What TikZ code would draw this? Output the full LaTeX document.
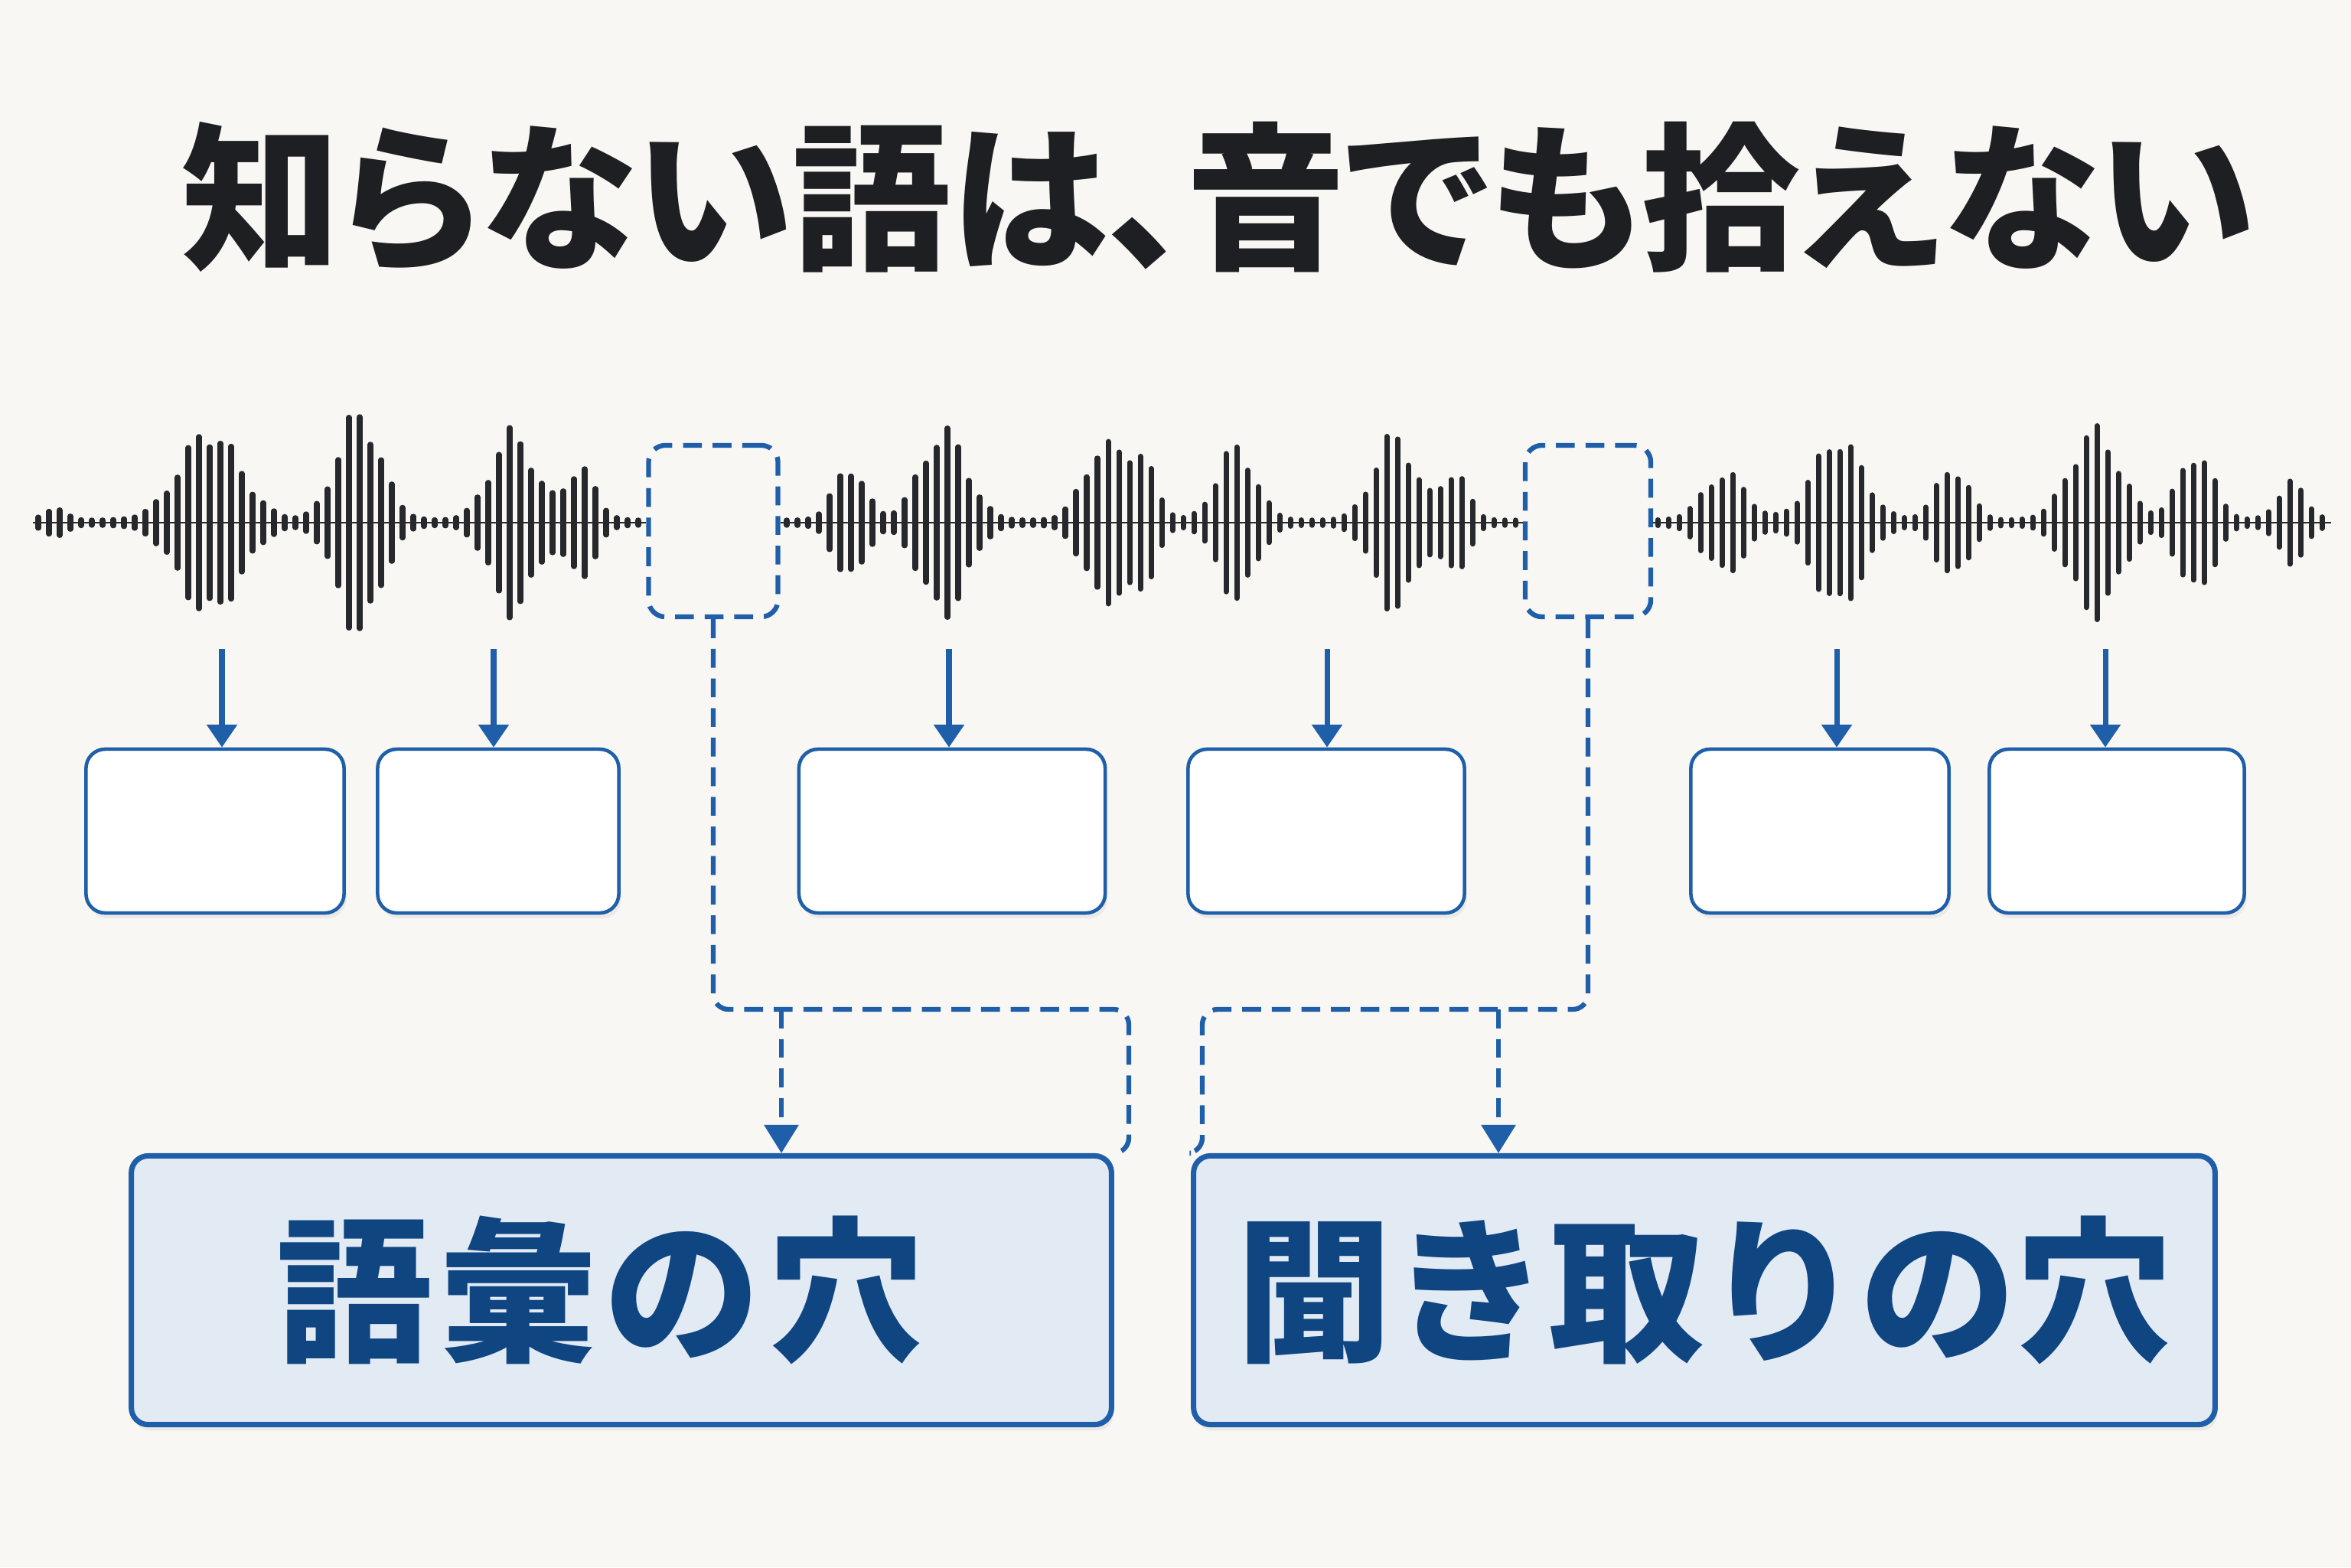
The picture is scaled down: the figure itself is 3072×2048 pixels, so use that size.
\documentclass[tikz,border=0pt]{standalone}
\usepackage{fontspec}
\newfontfamily\jptitle[RawFeature=+palt]{Noto Sans CJK JP}
\newfontfamily\jpfont{Noto Sans CJK JP}
\usetikzlibrary{arrows.meta,shadows}

\definecolor{paper}{HTML}{F8F7F3}
\definecolor{ink}{HTML}{1E1F22}
\definecolor{wavegray}{HTML}{26282C}
\definecolor{holeblue}{HTML}{1F5FA9}
\definecolor{holefill}{HTML}{E2EAF4}
\definecolor{holetext}{HTML}{0F4581}

\begin{document}
\begin{tikzpicture}[x=0.01cm,y=-0.01cm,>={Triangle[width=11pt,length=8.5pt]},
  declare function={
    burst(\x,\m,\h,\w)=\h*exp(-((min(abs(\x-\m),3*\w)/\w)^2));
    wave(\x)=burst(\x,72,18,18)+burst(\x,274,125,55)+burst(\x,469,150,40)+burst(\x,670,122,40)+burst(\x,758,72,28)
      +burst(\x,1110,76,28)+burst(\x,1233,125,42)+burst(\x,1440,100,35)+burst(\x,1490,82,28)+burst(\x,1615,102,35)
      +burst(\x,1822,118,38)+burst(\x,1900,68,24)+burst(\x,2253,66,38)+burst(\x,2401,115,45)+burst(\x,2551,74,30)
      +burst(\x,2737,125,45)+burst(\x,2869,95,32)+burst(\x,2994,52,26);
  },
  wavebar/.style={wavegray,line width=2pt,line cap=round},
  waveline/.style={wavegray,line width=0.6pt},
  gapbox/.style={draw=holeblue,line width=1.8pt,dash pattern=on 7pt off 4pt,rounded corners=0.22cm,minimum height=2.24cm},
  wordbox/.style={draw=holeblue,line width=1.3pt,fill=white,rounded corners=0.25cm,minimum height=2.14cm,
    drop shadow={opacity=0.1,shadow xshift=0.03cm,shadow yshift=-0.07cm}},
  holebox/.style={draw=holeblue,line width=2pt,fill=holefill,rounded corners=0.22cm,minimum height=3.51cm,
    text=holetext,font=\jpfont\bfseries\fontsize{58}{62}\selectfont,
    drop shadow={opacity=0.1,shadow xshift=0.03cm,shadow yshift=-0.08cm}},
  feed/.style={->,holeblue,line width=2pt},
  gapline/.style={holeblue,line width=1.8pt,dash pattern=on 7pt off 4pt,rounded corners=0.2cm},
  gaparrow/.style={->,>={Triangle[width=12.5pt,length=10.5pt]},holeblue,line width=1.8pt,dash pattern=on 7pt off 4pt}]

\fill[paper] (0,0) rectangle (3072,2048);

\node[text=ink,font=\jptitle\bfseries\fontsize{59}{64}\selectfont] (title) at (1592,258) {知らない語は、音でも拾えない};

\coordinate (w0) at (43,683);
\coordinate (w9) at (3046,683);
\node[gapbox,minimum width=1.69cm] (gap1) at (932,694) {};
\node[gapbox,minimum width=1.64cm] (gap2) at (2075,694) {};
\draw[waveline] (w0) -- (w0 -| gap1.west);
\draw[waveline] (gap1.east |- w0) -- (gap2.west |- w0);
\draw[waveline] (gap2.east |- w0) -- (w9);
\foreach \s/\n in {50/56,1028/68,2166/62}
  \foreach \i in {0,...,\n}{
    \pgfmathsetmacro\px{\s+14*\i}
    \pgfmathsetmacro\bh{3+wave(\px)*(0.88+0.12*cos(mod(97*\i+\s,360)))}
    \draw[wavebar] (\px,683-\bh) -- (\px,683+\bh);
  }

\node[wordbox,minimum width=3.37cm] (w1) at (281,1086) {};
\node[wordbox,minimum width=3.15cm] (w2) at (651,1086) {};
\node[wordbox,minimum width=4.00cm] (w3) at (1244,1086) {};
\node[wordbox,minimum width=3.61cm] (w4) at (1733,1086) {};
\node[wordbox,minimum width=3.37cm] (w5) at (2378,1086) {};
\node[wordbox,minimum width=3.33cm] (w6) at (2766,1086) {};

\coordinate (a1) at (290,848);
\coordinate (a2) at (645,848);
\coordinate (a3) at (1240,848);
\coordinate (a4) at (1734,848);
\coordinate (a5) at (2400,848);
\coordinate (a6) at (2751,848);
\draw[feed] (a1) -- (a1 |- w1.north);
\draw[feed] (a2) -- (a2 |- w2.north);
\draw[feed] (a3) -- (a3 |- w3.north);
\draw[feed] (a4) -- (a4 |- w4.north);
\draw[feed] (a5) -- (a5 |- w5.north);
\draw[feed] (a6) -- (a6 |- w6.north);

\node[holebox,minimum width=12.8cm] (vocab) at (812,1686) {\addfontfeature{LetterSpace=5}語彙の穴\kern0.55cm};
\node[holebox,minimum width=13.34cm] (listen) at (2227,1686) {聞き取りの穴};

\coordinate (v1) at (1475,1319);
\coordinate (j1) at (1021,1319);
\coordinate (v2) at (1571,1319);
\coordinate (j2) at (1958,1319);
\draw[gapline] (gap1.south) |- (v1) |- (vocab.north east);
\draw[gapline] (gap2.south) |- (v2) |- (listen.north west);
\draw[gaparrow] (j1) -- (j1 |- vocab.north);
\draw[gaparrow] (j2) -- (j2 |- listen.north);
\end{tikzpicture}
\end{document}
